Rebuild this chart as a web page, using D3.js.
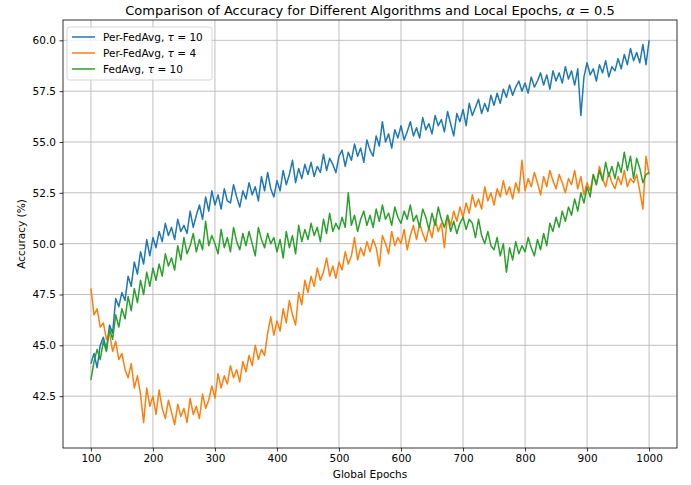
<!DOCTYPE html>
<html>
<head>
<meta charset="utf-8">
<script src="https://cdn.jsdelivr.net/npm/d3@7"></script>
<style>
body{margin:0;background:#fff;}
svg text{font-family:"DejaVu Sans",sans-serif;fill:#000;}
</style>
</head>
<body>
<svg id="chart"></svg>
<script>
// epochs 100..1000, every 5
var epochs=d3.range(100,1001,5)

var perFedAvg10=[
44.1,44.6,43.9,45.0,45.4,44.8,46.0,45.6,47.3,46.9,
47.6,47.2,48.4,47.9,49.1,48.5,49.6,49.0,50.2,49.4,
50.3,49.8,50.6,50.1,51.0,50.4,50.8,50.2,51.2,50.6,
50.9,50.5,51.6,50.8,51.4,51.9,51.2,52.3,51.6,52.6,
51.9,52.4,51.7,52.7,52.1,52.0,52.9,52.3,51.8,52.6,
52.2,53.0,52.4,52.8,52.1,53.3,52.6,53.5,52.7,52.3,
53.1,52.6,53.6,52.9,53.4,54.1,53.0,53.7,53.2,53.9,
53.4,54.0,53.3,53.8,53.5,54.4,53.6,54.2,53.9,53.5,
54.3,54.6,53.8,54.5,54.1,54.9,54.3,54.7,54.0,55.1,
54.6,54.3,55.3,54.8,56.0,55.0,55.4,54.7,55.6,55.2,
55.8,55.1,55.5,56.0,55.3,55.7,55.2,56.2,55.6,55.9,
55.4,56.3,55.8,56.1,55.5,56.5,55.9,55.3,56.4,56.0,
56.6,55.8,56.9,56.3,56.7,57.1,56.4,56.9,56.5,57.3,
56.8,57.4,56.9,57.6,57.2,57.8,57.3,57.7,58.0,57.5,
57.9,57.4,58.2,57.7,58.0,58.4,57.8,58.3,57.6,58.5,
58.0,58.4,57.9,58.7,58.1,58.5,57.8,58.6,56.3,58.2,
58.9,58.3,58.6,58.0,58.8,58.4,59.0,58.2,58.7,58.5,
59.1,58.6,59.3,58.8,59.6,59.0,59.4,58.9,59.8,58.8,
60.0]

var perFedAvg4=[
47.8,46.5,46.8,45.9,46.1,45.3,45.6,44.7,45.2,44.3,
44.6,43.8,43.4,44.1,42.9,43.5,42.6,41.2,42.9,42.0,
42.5,41.6,42.8,41.9,41.4,42.3,41.7,41.1,42.1,41.5,
41.9,41.2,42.4,41.6,42.0,41.4,42.6,41.9,42.3,43.0,
42.4,43.6,42.9,43.5,43.1,44.0,43.4,43.8,43.2,44.2,
43.7,44.5,44.0,45.0,44.3,44.8,44.5,45.6,46.4,45.5,
46.2,45.7,46.8,46.1,47.2,46.5,46.0,47.6,47.0,48.2,
47.6,48.4,47.9,48.8,48.2,48.6,49.3,48.4,48.9,48.3,
49.1,48.7,49.6,49.0,49.4,50.3,49.2,49.8,49.4,50.1,
49.6,50.2,49.8,48.9,50.4,50.0,49.5,50.6,49.9,50.3,
50.0,50.7,49.7,50.4,50.9,50.2,51.0,50.5,50.1,50.8,
50.3,51.2,50.6,51.0,49.8,51.4,50.9,51.6,51.1,51.8,
51.3,52.0,51.5,52.4,51.8,52.2,51.7,52.8,52.1,52.5,
51.9,52.7,52.3,53.1,52.4,52.8,52.2,53.0,52.5,54.1,
52.6,53.2,52.8,53.5,53.0,52.4,53.3,52.8,53.6,53.1,
52.7,53.4,53.0,52.5,53.2,52.9,53.6,52.7,53.3,52.4,
53.0,52.6,53.4,52.9,53.8,53.2,52.8,53.5,53.0,52.7,
53.3,52.9,53.6,52.8,53.2,53.0,53.4,52.6,51.7,54.3,
53.4]

var fedAvg10=[
43.3,44.2,44.8,44.3,45.2,44.7,45.8,45.3,46.5,45.9,
46.8,46.3,47.4,46.7,47.8,47.1,48.2,47.5,48.6,47.9,
48.8,48.2,49.0,48.4,49.5,48.9,49.3,48.7,49.9,49.2,
50.3,49.5,49.9,50.5,49.6,50.2,49.7,51.1,49.9,50.4,
50.0,49.5,50.7,49.8,50.3,49.6,50.8,50.1,49.7,50.5,
49.9,50.6,50.0,49.4,50.8,50.2,49.8,50.5,50.0,50.3,
49.6,50.2,49.3,50.6,49.8,50.4,49.5,50.9,50.1,50.7,
50.2,51.0,50.4,50.8,50.1,51.2,50.5,51.5,50.6,51.0,
50.7,51.3,50.8,52.5,50.9,51.4,50.6,51.2,51.6,50.9,
51.4,50.8,51.7,51.1,51.9,51.2,51.5,50.9,51.8,51.3,
51.0,51.6,51.2,51.9,51.1,51.4,50.8,51.7,51.3,50.7,
51.5,50.9,51.8,51.2,50.8,51.4,50.6,51.1,50.5,51.0,
51.3,50.7,51.2,51.0,50.3,51.2,50.4,50.0,50.6,49.9,
49.7,50.3,49.4,50.0,48.6,49.8,49.2,50.1,49.5,49.9,
49.6,50.3,49.8,49.4,50.2,49.7,50.5,49.9,51.0,50.6,
51.3,50.8,51.6,51.1,51.8,51.4,52.2,51.6,52.5,52.0,
52.8,52.3,53.4,52.9,53.6,53.1,54.0,53.3,53.8,53.2,
54.0,53.5,54.5,53.6,54.3,53.2,54.2,53.7,53.0,53.4,
53.5]

var seriesNames=["Per-FedAvg, ","Per-FedAvg, ","FedAvg, "]
var seriesTau=["10","4","10"]
var seriesColors=["#1f77b4","#ff7f0e","#2ca02c"]
var xTicks=[100,200,300,400,500,600,700,800,900,1000]
var yTicks=[42.5,45.0,47.5,50.0,52.5,55.0,57.5,60.0]

var screen={width:691,height:485}
var margins={left:63,right:14,top:20,bottom:37}
var graph={
    width:screen.width-margins.left-margins.right,
    height:screen.height-margins.top-margins.bottom
}

var svg=d3.select("#chart")
    .attr("width",screen.width)
    .attr("height",screen.height)

var xScale=d3.scaleLinear()
    .domain([55,1045])
    .range([0,graph.width])
var yScale=d3.scaleLinear()
    .domain([39.95,61.0])
    .range([graph.height,0])

var target=svg.append("g")
    .attr("transform","translate("+margins.left+","+margins.top+")")

// grid
target.append("g")
    .selectAll("line.vg")
    .data(xTicks).enter()
    .append("line")
    .attr("x1",function(d){return xScale(d)})
    .attr("x2",function(d){return xScale(d)})
    .attr("y1",0).attr("y2",graph.height)
    .attr("stroke","#b0b0b0").attr("stroke-width",0.8)
target.append("g")
    .selectAll("line.hg")
    .data(yTicks).enter()
    .append("line")
    .attr("y1",function(d){return yScale(d)})
    .attr("y2",function(d){return yScale(d)})
    .attr("x1",0).attr("x2",graph.width)
    .attr("stroke","#b0b0b0").attr("stroke-width",0.8)

// lines
var allSeries=[perFedAvg10,perFedAvg4,fedAvg10]
var lineGenerator=d3.line()
    .x(function(d,i){return xScale(epochs[i])})
    .y(function(d){return yScale(d)})
allSeries.forEach(function(s,i){
    target.append("path")
        .datum(s)
        .attr("d",lineGenerator)
        .attr("fill","none")
        .attr("stroke",seriesColors[i])
        .attr("stroke-width",1.5)
        .attr("stroke-linejoin","round")
})

// frame
target.append("rect")
    .attr("width",graph.width).attr("height",graph.height)
    .attr("fill","none").attr("stroke","#000").attr("stroke-width",0.8)

// axes
var xAxis=d3.axisBottom(xScale).tickValues(xTicks).tickSize(3.5).tickPadding(3.5)
    .tickFormat(d3.format("d"))
var gx=target.append("g")
    .attr("transform","translate(0,"+graph.height+")")
    .call(xAxis)
var yAxis=d3.axisLeft(yScale).tickValues(yTicks).tickSize(3.5).tickPadding(3.5)
    .tickFormat(d3.format(".1f"))
var gy=target.append("g").call(yAxis)
;[gx,gy].forEach(function(g){
    g.select(".domain").remove()
    g.selectAll("line").attr("stroke","#000").attr("stroke-width",0.8)
    g.selectAll("text").attr("font-size","10.5px").attr("font-family","DejaVu Sans").attr("fill","#000")
})

// labels
var title=svg.append("text")
    .attr("x",margins.left+graph.width/2)
    .attr("y",15)
    .attr("text-anchor","middle")
    .attr("font-size","13px")
title.append("tspan").text("Comparison of Accuracy for Different Algorithms and Local Epochs, ")
title.append("tspan").attr("font-style","italic").text("α")
title.append("tspan").text(" = 0.5")
svg.append("text")
    .attr("x",margins.left+graph.width/2)
    .attr("y",478)
    .attr("text-anchor","middle")
    .attr("font-size","10.5px")
    .text("Global Epochs")
svg.append("text")
    .attr("transform","translate(25,"+(margins.top+graph.height/2)+") rotate(-90)")
    .attr("text-anchor","middle")
    .attr("font-size","10.5px")
    .text("Accuracy (%)")

// legend
var legend=target.append("g").attr("transform","translate(4,7)")
legend.append("rect")
    .attr("width",145).attr("height",53)
    .attr("rx",2.5)
    .attr("fill","#fff").attr("fill-opacity",0.8)
    .attr("stroke","#cccccc").attr("stroke-width",0.8)
seriesNames.forEach(function(name,i){
    var row=legend.append("g").attr("transform","translate(0,"+(10+i*16)+")")
    row.append("line")
        .attr("x1",5).attr("x2",28)
        .attr("stroke",seriesColors[i]).attr("stroke-width",1.5)
    var t=row.append("text")
        .attr("x",36).attr("y",4)
        .attr("font-size","10.5px")
    t.append("tspan").text(name)
    t.append("tspan").attr("font-style","italic").text("τ")
    t.append("tspan").text(" = "+seriesTau[i])
})
</script>
</body>
</html>
